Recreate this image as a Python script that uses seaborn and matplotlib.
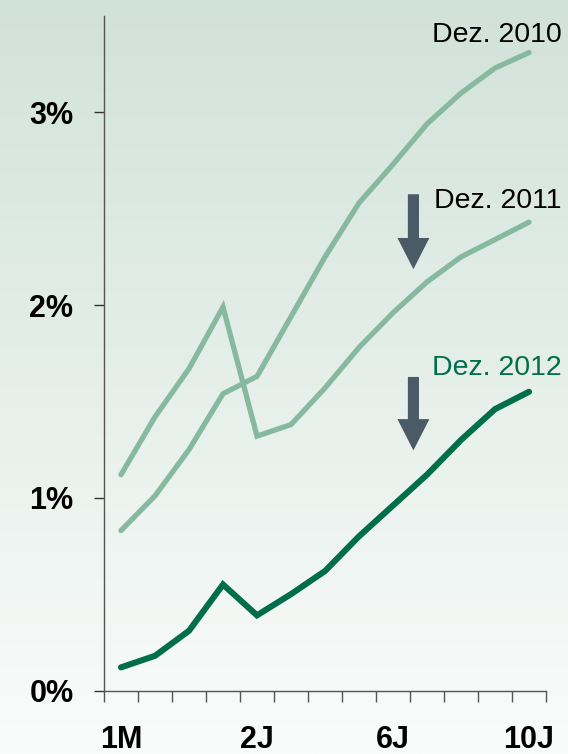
import numpy as np
import pandas as pd
import matplotlib
matplotlib.use('Agg')
import matplotlib.pyplot as plt
import seaborn as sns
from matplotlib import font_manager
from matplotlib.colors import LinearSegmentedColormap

# Laufzeiten (Zinsstrukturkurve) und Renditen in %
laufzeit = ['1M', '3M', '6M', '1J', '2J', '3J', '4J', '5J', '6J', '7J', '8J', '9J', '10J']
dez_2010 = [0.83, 1.01, 1.25, 1.54, 1.63, 1.94, 2.25, 2.53, 2.73, 2.94, 3.10, 3.23, 3.31]
dez_2011 = [1.12, 1.42, 1.67, 1.99, 1.32, 1.38, 1.57, 1.78, 1.96, 2.12, 2.25, 2.34, 2.43]
dez_2012 = [0.12, 0.18, 0.31, 0.55, 0.39, 0.50, 0.62, 0.80, 0.96, 1.12, 1.30, 1.46, 1.55]
shown_labels = ['1M', '2J', '6J', '10J']
y_ticks = [0, 1, 2, 3]

light_green = '#86b9a0'
dark_green = '#006e4b'
arrow_col = '#4b5a67'

sns.set_style('ticks')
plt.rcParams['font.family'] = ['Liberation Sans', 'DejaVu Sans']

try:
    font_manager.findfont('Liberation Sans Narrow', fallback_to_default=False)
    narrow, nsize = 'Liberation Sans Narrow', 24
except Exception:
    narrow, nsize = 'Liberation Sans', 20.5

df = pd.DataFrame({'pos': np.arange(len(laufzeit)), 'laufzeit': laufzeit,
                   'Dez. 2010': dez_2010, 'Dez. 2011': dez_2011, 'Dez. 2012': dez_2012})

fig = plt.figure(figsize=(5.68, 7.54), dpi=100)

# background gradient
bg = fig.add_axes([0, 0, 1, 1], zorder=-1)
cmap = LinearSegmentedColormap.from_list('bg', ['#d1e2d9', '#fafcfb'])
bg.imshow(np.linspace(0, 1, 256).reshape(-1, 1), cmap=cmap, aspect='auto',
          extent=[0, 1, 0, 1])
bg.axis('off')

ax = fig.add_axes([0.1831, 0.0842, 0.7782, 0.8946])
ax.set_facecolor('none')

sns.lineplot(data=df, x='pos', y='Dez. 2010', ax=ax, color=light_green,
             linewidth=3.8, solid_capstyle='round', solid_joinstyle='miter')
sns.lineplot(data=df, x='pos', y='Dez. 2011', ax=ax, color=light_green,
             linewidth=3.8, solid_capstyle='round', solid_joinstyle='miter')
sns.lineplot(data=df, x='pos', y='Dez. 2012', ax=ax, color=dark_green,
             linewidth=4.4, solid_capstyle='round', solid_joinstyle='miter')

ax.set_xlim(-0.5, len(laufzeit) - 0.5)
ax.set_ylim(0, 3.5)
ax.set_xlabel('')
ax.set_ylabel('')

ax.set_xticks([laufzeit.index(l) for l in shown_labels])
ax.set_xticklabels(shown_labels)
ax.set_xticks(np.arange(-0.5, len(laufzeit)), minor=True)
ax.set_yticks(y_ticks)
ax.set_yticklabels([f'{v}%' for v in y_ticks])

ax.tick_params(axis='x', which='major', length=0, pad=25, labelsize=22,
               labelcolor='black')
ax.tick_params(axis='x', which='minor', length=8, width=1, color='#555555')
ax.tick_params(axis='y', which='major', length=7, width=1, color='#333333',
               pad=15, labelsize=22, labelcolor='black')
for lab in ax.get_xticklabels() + ax.get_yticklabels():
    lab.set_fontweight('bold')

for s in ['top', 'right']:
    ax.spines[s].set_visible(False)
for s in ['left', 'bottom']:
    ax.spines[s].set_color('#555555')
    ax.spines[s].set_linewidth(1.0)

# series labels at the right end
xr = len(laufzeit) - 0.03
ax.text(xr, dez_2010[-1] + 0.056, 'Dez. 2010', ha='right', va='baseline',
        fontsize=nsize, family=narrow, color='black', clip_on=False)
ax.text(xr, dez_2011[-1] + 0.076, 'Dez. 2011', ha='right', va='baseline',
        fontsize=nsize, family=narrow, color='black', clip_on=False)
ax.text(xr, dez_2012[-1] + 0.087, 'Dez. 2012', ha='right', va='baseline',
        fontsize=nsize, family=narrow, color=dark_green, clip_on=False)

# down arrows
arrow_style = 'simple,head_length=0.9,head_width=0.92,tail_width=0.32'
for y0, y1 in [(2.575, 2.186), (1.627, 1.246)]:
    ax.annotate('', xy=(8.6, y1), xytext=(8.6, y0),
                arrowprops=dict(arrowstyle=arrow_style, mutation_scale=25,
                                color=arrow_col, shrinkA=0, shrinkB=0, lw=0))

plt.savefig('out.png', dpi=100)
plt.close()
